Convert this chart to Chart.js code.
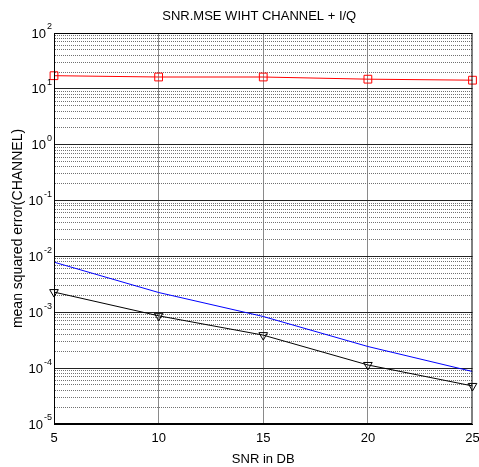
<!DOCTYPE html>
<html>
<head>
<meta charset="utf-8">
<script src="https://cdn.jsdelivr.net/npm/chart.js@4/dist/chart.umd.min.js"></script>
<style>
  html, body { margin: 0; padding: 0; background: #fff; }
  #wrap { width: 479px; height: 467px; }
</style>
</head>
<body>
<div id="wrap"><canvas id="mse-chart" width="479" height="467"></canvas></div>
<script>
// SNR vs MSE chart (log y axis, MATLAB look)

// Data
const snrDb = [5, 10, 15, 20, 25];
const mseRed = [17.2, 16.3, 16.3, 14.9, 14.3];
const mseBlue = [7.9e-3, 2.26e-3, 8.4e-4, 2.44e-4, 8.7e-5];
const mseBlack = [2.3e-3, 8.65e-4, 3.9e-4, 1.14e-4, 4.8e-5];

// Axis ticks
const xTicks = [5, 10, 15, 20, 25];
const yExponents = [-5, -4, -3, -2, -1, 0, 1, 2];

const titleText = 'SNR.MSE WIHT CHANNEL + I/Q';
const xLabel = 'SNR in DB';
const yLabel = 'mean squared error(CHANNEL)';

const FONT = 'Arial, "Liberation Sans", sans-serif';

// all log grid values 1..9 x 10^n
const yGridValues = [];
yExponents.forEach(e => {
    if (e === 2) { yGridValues.push(100); return; }
    for (let m = 1; m <= 9; m++) yGridValues.push(+(m * Math.pow(10, e)).toPrecision(3));
});

function isDecade(v) {
    const l = Math.log10(v);
    return Math.abs(l - Math.round(l)) < 1e-9;
}

// draws title, box, x tick labels and 10^n tick labels
const extrasPlugin = {
    id: 'extras',
    afterDraw(chart) {
        const { ctx, chartArea } = chart;
        const x = chart.scales.x;
        const y = chart.scales.y;
        ctx.save();
        ctx.strokeStyle = '#000';
        ctx.lineWidth = 1;
        ctx.strokeRect(chartArea.left + 0.5, chartArea.top + 0.5,
            chartArea.right - chartArea.left - 1, chartArea.bottom - chartArea.top - 1);

        ctx.fillStyle = '#000';
        ctx.textBaseline = 'middle';
        ctx.font = '13px ' + FONT;
        ctx.textAlign = 'center';
        ctx.fillText(titleText, (chartArea.left + chartArea.right) / 2 - 4, 16);

        // x tick labels (last one runs off the canvas like the original)
        xTicks.forEach(v => {
            ctx.fillText(String(v), x.getPixelForValue(v), chartArea.bottom + 14);
        });

        yExponents.forEach(e => {
            const py = y.getPixelForValue(Math.pow(10, e));
            const exp = String(e);
            ctx.font = '9px ' + FONT;
            const ew = ctx.measureText(exp).width;
            ctx.textAlign = 'left';
            const expX = chartArea.left - 2 - ew;
            ctx.fillText(exp, expX, py - 6);
            ctx.font = '13px ' + FONT;
            ctx.textAlign = 'right';
            ctx.fillText('10', expX - 1, py + 1);
        });
        ctx.restore();
    }
};

const ctx = document.getElementById('mse-chart').getContext('2d');

new Chart(ctx, {
    type: 'line',
    data: {
        datasets: [
            {
                label: 'channel + I/Q',
                data: snrDb.map((x, i) => ({ x, y: mseRed[i] })),
                borderColor: '#ff0000',
                borderWidth: 1,
                pointStyle: 'rect',
                pointRadius: 5.5,
                pointBorderColor: '#ff0000',
                pointBackgroundColor: 'rgba(0,0,0,0)',
                pointBorderWidth: 1,
                clip: false
            },
            {
                label: 'blue',
                data: snrDb.map((x, i) => ({ x, y: mseBlue[i] })),
                borderColor: '#0000ff',
                borderWidth: 1,
                pointRadius: 0
            },
            {
                label: 'black',
                data: snrDb.map((x, i) => ({ x, y: mseBlack[i] })),
                borderColor: '#000000',
                borderWidth: 1,
                pointStyle: 'triangle',
                rotation: 180,
                pointRadius: 5,
                pointBorderColor: '#000000',
                pointBackgroundColor: 'rgba(0,0,0,0)',
                pointBorderWidth: 1,
                clip: false
            }
        ]
    },
    options: {
        responsive: false,
        animation: false,
        layout: { padding: { top: 33, right: 4, left: 0, bottom: 0 } },
        plugins: {
            legend: { display: false },
            tooltip: { enabled: false },
            title: { display: false }
        },
        scales: {
            x: {
                type: 'linear',
                min: 5,
                max: 25,
                afterFit: (scale) => { scale.height = 43; },
                afterBuildTicks: (scale) => { scale.ticks = xTicks.map(v => ({ value: v })); },
                ticks: {
                    autoSkip: false,
                    maxRotation: 0,
                    callback: () => ''
                },
                grid: {
                    drawTicks: false,
                    color: (c) => (c.tick && (c.tick.value === 5 || c.tick.value === 25)) ? 'rgba(0,0,0,0)' : '#8a8a8a',
                    lineWidth: 1
                },
                border: { display: true, color: '#000', width: 1 },
                title: {
                    display: true,
                    text: xLabel,
                    color: '#000',
                    font: { family: FONT, size: 13 },
                    padding: { top: 4, bottom: 0 }
                }
            },
            y: {
                type: 'logarithmic',
                min: 1e-5,
                max: 100,
                afterFit: (scale) => { scale.width = 54; },
                afterBuildTicks: (scale) => { scale.ticks = yGridValues.map(v => ({ value: v, major: isDecade(v) })); },
                ticks: {
                    autoSkip: false,
                    callback: () => '',
                    padding: 0
                },
                grid: {
                    drawTicks: false,
                    color: (c) => (c.tick && isDecade(c.tick.value)) ? '#222' : '#707070',
                    lineWidth: 1
                },
                border: {
                    display: true,
                    color: '#000',
                    width: 1,
                    dash: (c) => (c.tick && isDecade(c.tick.value)) ? [] : [1, 1]
                },
                title: {
                    display: true,
                    text: yLabel,
                    color: '#000',
                    font: { family: FONT, size: 14 },
                    padding: { top: 10, bottom: 0 }
                }
            }
        }
    },
    plugins: [extrasPlugin]
});
</script>
</body>
</html>
